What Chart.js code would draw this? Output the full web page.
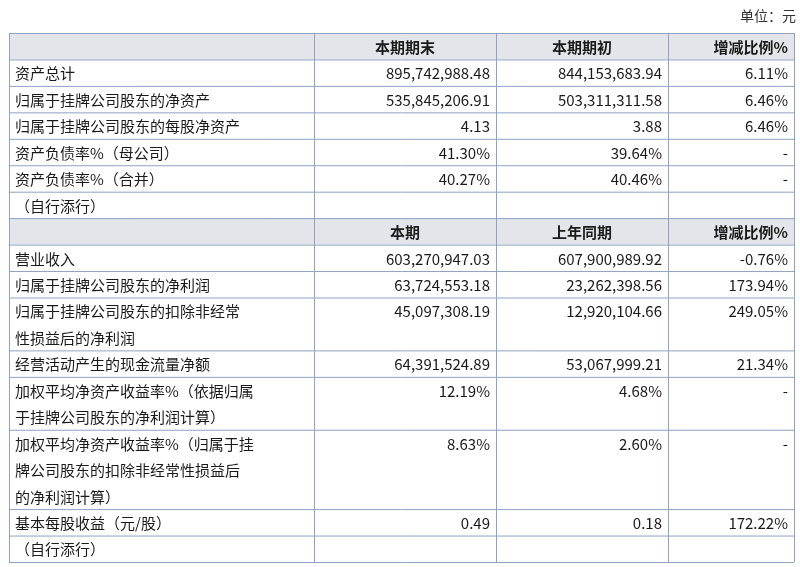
<!DOCTYPE html>
<html>
<head>
<meta charset="utf-8">
<script src="https://cdn.jsdelivr.net/npm/chart.js@4/dist/chart.umd.min.js"></script>
<style>
  body { margin: 0; background: #fff; }
  #wrap { width: 800px; height: 567px; }
</style>
</head>
<body>
<div id="wrap"><canvas id="tableChart"></canvas></div>
<script>
// table data
var unitLabel = '单位：元';
var headers1 = ['', '本期期末', '本期期初', '增减比例%'];
var headers2 = ['', '本期', '上年同期', '增减比例%'];
var rowLabels = [
    ['资产总计'],
    ['归属于挂牌公司股东的净资产'],
    ['归属于挂牌公司股东的每股净资产'],
    ['资产负债率%（母公司）'],
    ['资产负债率%（合并）'],
    ['（自行添行）'],
    null,
    ['营业收入'],
    ['归属于挂牌公司股东的净利润'],
    ['归属于挂牌公司股东的扣除非经常', '性损益后的净利润'],
    ['经营活动产生的现金流量净额'],
    ['加权平均净资产收益率%（依据归属', '于挂牌公司股东的净利润计算）'],
    ['加权平均净资产收益率%（归属于挂', '牌公司股东的扣除非经常性损益后', '的净利润计算）'],
    ['基本每股收益（元/股）'],
    ['（自行添行）']
];
var currentValues = ['895,742,988.48', '535,845,206.91', '4.13', '41.30%', '40.27%', '', null,
    '603,270,947.03', '63,724,553.18', '45,097,308.19', '64,391,524.89', '12.19%', '8.63%', '0.49', ''];
var priorValues = ['844,153,683.94', '503,311,311.58', '3.88', '39.64%', '40.46%', '', null,
    '607,900,989.92', '23,262,398.56', '12,920,104.66', '53,067,999.21', '4.68%', '2.60%', '0.18', ''];
var changeValues = ['6.11%', '6.46%', '6.46%', '-', '-', '', null,
    '-0.76%', '173.94%', '249.05%', '21.34%', '-', '-', '172.22%', ''];

// layout (column widths in px-units, rows in line-units)
var colWidths = [305, 182, 172, 126];
var colEdges = [0];
colWidths.forEach(function (w) { colEdges.push(colEdges[colEdges.length - 1] + w); });

var rows = [{ header: headers1, lines: 1 }];
rowLabels.forEach(function (lbl, i) {
    if (lbl === null) rows.push({ header: headers2, lines: 1 });
    else rows.push({ cells: [lbl, currentValues[i], priorValues[i], changeValues[i]], lines: lbl.length });
});
var rowEdges = [0];
rows.forEach(function (r) { rowEdges.push(rowEdges[rowEdges.length - 1] + r.lines); });

var points = [];
rows.forEach(function (r, i) {
    for (var c = 0; c < 4; c++) points.push({ x: (colEdges[c] + colEdges[c + 1]) / 2, y: rowEdges[i] + 0.5 });
});

var font = '"Noto Sans CJK SC", "Noto Sans", sans-serif';

var tablePlugin = {
    id: 'tablePlugin',
    afterDraw: function (chart) {
        var ctx = chart.ctx, xs = chart.scales.x, ys = chart.scales.y;
        var px = function (v) { return xs.getPixelForValue(v); };
        var py = function (v) { return ys.getPixelForValue(v); };
        var lineH = py(1) - py(0);
        ctx.save();
        // unit
        ctx.fillStyle = '#333';
        ctx.font = '14px ' + font;
        ctx.textAlign = 'right';
        ctx.textBaseline = 'middle';
        ctx.fillText(unitLabel, px(colEdges[4]) + 2, 16);
        // header backgrounds
        rows.forEach(function (r, i) {
            if (r.header) {
                ctx.fillStyle = '#e3e5ea';
                ctx.fillRect(px(0), py(rowEdges[i]), px(colEdges[4]) - px(0), py(rowEdges[i + 1]) - py(rowEdges[i]));
            }
        });
        // grid
        ctx.strokeStyle = '#8ea3c2';
        ctx.lineWidth = 1;
        rowEdges.forEach(function (e) {
            ctx.beginPath(); ctx.moveTo(px(0), py(e) + 0.5); ctx.lineTo(px(colEdges[4]), py(e) + 0.5); ctx.stroke();
        });
        colEdges.forEach(function (e) {
            ctx.beginPath(); ctx.moveTo(px(e) + 0.5, py(0)); ctx.lineTo(px(e) + 0.5, py(rowEdges[rowEdges.length - 1])); ctx.stroke();
        });
        // text
        ctx.fillStyle = '#1a1a1a';
        rows.forEach(function (r, i) {
            var top = py(rowEdges[i]);
            var cy = top + lineH / 2 + 1;
            if (r.header) {
                ctx.font = 'bold 15px ' + font;
                for (var c = 1; c < 4; c++) {
                    ctx.textAlign = c === 3 ? 'right' : 'center';
                    var x = c === 3 ? px(colEdges[4]) - 6 : (px(colEdges[c]) + px(colEdges[c + 1])) / 2;
                    ctx.fillText(r.header[c], x, cy);
                }
                return;
            }
            ctx.font = '15px ' + font;
            ctx.textAlign = 'left';
            r.cells[0].forEach(function (t, k) { ctx.fillText(t, px(0) + 6, cy + k * lineH); });
            ctx.textAlign = 'right';
            for (var c = 1; c < 4; c++) ctx.fillText(r.cells[c], px(colEdges[c + 1]) - 6, cy);
        });
        ctx.restore();
    }
};

new Chart(document.getElementById('tableChart').getContext('2d'), {
    type: 'scatter',
    data: { datasets: [{ data: points, pointRadius: 0, pointHoverRadius: 0 }] },
    options: {
        responsive: true,
        maintainAspectRatio: false,
        animation: false,
        events: [],
        layout: { padding: { left: 9, right: 6, top: 33, bottom: 5 } },
        plugins: { legend: { display: false }, tooltip: { enabled: false } },
        scales: {
            x: { type: 'linear', display: false, min: 0, max: colEdges[4] },
            y: { type: 'linear', display: false, reverse: true, min: 0, max: rowEdges[rowEdges.length - 1] }
        }
    },
    plugins: [tablePlugin]
});
</script>
</body>
</html>
